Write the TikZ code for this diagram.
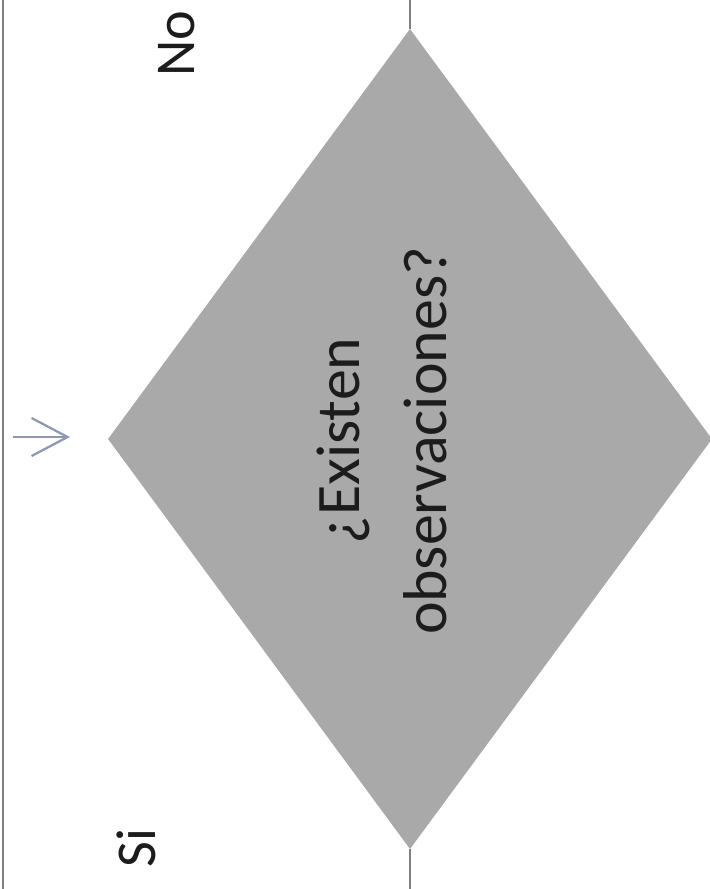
\documentclass[tikz,border=0pt]{standalone}
\usepackage{fontspec}
\setmainfont{Carlito}
\usepackage{xcolor}
\usepackage{tikz}
\usetikzlibrary{shapes.geometric, arrows.meta, positioning, calc}
\definecolor{decgray}{HTML}{A9A9A9}
\definecolor{lanegray}{HTML}{808080}
\definecolor{flowblue}{HTML}{8E98B4}
\definecolor{textdark}{HTML}{1C1C1C}

\begin{document}
\begin{tikzpicture}[x=0.025cm, y=-0.025cm,
  decision/.style={diamond, fill=decgray, draw=none, inner sep=0pt, minimum width=15.1cm, minimum height=20.5cm},
  question/.style={rotate=90, align=center, text=textdark, font=\fontsize{44}{62}\selectfont},
  answer/.style={rotate=90, text=textdark, font=\fontsize{40}{48}\selectfont, inner sep=0pt},
  lane/.style={draw=lanegray, line width=1.2pt},
]
  \useasboundingbox (0,0) rectangle (710,889);
  \draw[lane] (3,0) -- (3,889);

  \node[decision] (check) at (410,439) {};
  \node[question] (ask) at (382,441) {¿Existen\\observaciones?};

  \coordinate (intop) at (410,0);
  \coordinate (outbot) at (410,889);
  \draw[lane] (intop) -- (check.north);
  \draw[lane] (check.south) -- (outbot);

  \coordinate (arrstart) at (13,437);
  \coordinate (arrend) at (70,437);
  \draw[flowblue, line width=1.6pt, -{Straight Barb[length=0.9cm, width=0.95cm]}] (arrstart) -- (arrend);

  \node[answer] (no) at (177,44) {No};
  \node[answer] (si) at (136,848) {Si};
\end{tikzpicture}
\end{document}
